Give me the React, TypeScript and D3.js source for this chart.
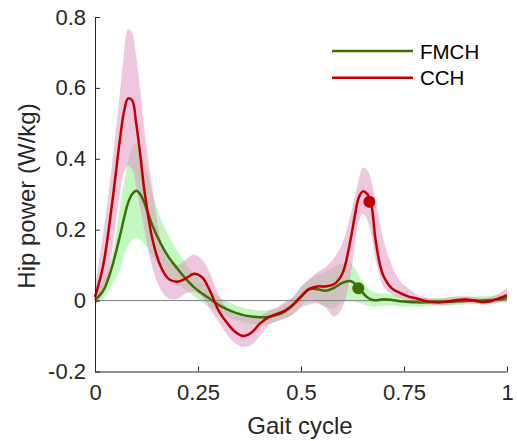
import { useEffect, useRef } from "react"
import * as d3 from "d3"

// gait cycle samples (fraction of stride)
const gait = [0, 0.02, 0.04, 0.06, 0.07, 0.08, 0.09, 0.1, 0.11, 0.12, 0.14, 0.16, 0.18, 0.2, 0.22, 0.24, 0.26, 0.28, 0.3, 0.32, 0.34, 0.36, 0.38, 0.4, 0.42, 0.44, 0.46, 0.48, 0.5, 0.52, 0.54, 0.56, 0.58, 0.6, 0.62, 0.63, 0.64, 0.65, 0.66, 0.67, 0.68, 0.69, 0.7, 0.72, 0.74, 0.76, 0.78, 0.8, 0.82, 0.84, 0.86, 0.88, 0.9, 0.92, 0.94, 0.96, 0.98, 1]

const cchMean = [0.01, 0.1, 0.26, 0.45, 0.53, 0.57, 0.565, 0.5, 0.41, 0.31, 0.17, 0.095, 0.06, 0.053, 0.062, 0.076, 0.066, 0.025, -0.028, -0.062, -0.088, -0.1, -0.09, -0.065, -0.048, -0.038, -0.029, -0.012, 0.012, 0.033, 0.04, 0.04, 0.046, 0.075, 0.17, 0.235, 0.29, 0.308, 0.302, 0.275, 0.18, 0.11, 0.07, 0.035, 0.022, 0.012, 0.006, 0, -0.004, -0.005, -0.002, 0.002, 0.003, 0, -0.004, -0.002, 0.006, 0.015]
const cchUpper = [0.04, 0.19, 0.37, 0.58, 0.69, 0.765, 0.755, 0.69, 0.59, 0.48, 0.31, 0.17, 0.11, 0.1, 0.115, 0.13, 0.115, 0.075, 0.015, -0.02, -0.04, -0.046, -0.045, -0.043, -0.03, -0.02, -0.005, 0.01, 0.04, 0.06, 0.08, 0.095, 0.12, 0.16, 0.24, 0.29, 0.34, 0.375, 0.37, 0.34, 0.285, 0.23, 0.17, 0.1, 0.055, 0.035, 0.018, 0.01, 0.006, 0.006, 0.01, 0.012, 0.012, 0.01, 0.008, 0.01, 0.02, 0.035]
const cchLower = [-0.012, 0.02, 0.13, 0.3, 0.36, 0.38, 0.37, 0.32, 0.26, 0.2, 0.09, 0.03, 0.005, 0.005, 0.02, 0.025, 0.01, -0.025, -0.06, -0.095, -0.12, -0.13, -0.125, -0.1, -0.07, -0.058, -0.05, -0.04, -0.02, -0.012, -0.008, -0.02, -0.045, -0.02, 0.07, 0.15, 0.22, 0.245, 0.23, 0.19, 0.12, 0.075, 0.04, 0.018, 0.008, 0.004, 0, -0.006, -0.012, -0.014, -0.012, -0.008, -0.006, -0.008, -0.012, -0.01, -0.006, 0]

const fmchMean = [0.002, 0.028, 0.09, 0.18, 0.23, 0.275, 0.3, 0.31, 0.3, 0.275, 0.21, 0.16, 0.12, 0.09, 0.062, 0.038, 0.02, 0.004, -0.012, -0.024, -0.034, -0.041, -0.045, -0.047, -0.046, -0.041, -0.031, -0.013, 0.01, 0.032, 0.032, 0.028, 0.036, 0.05, 0.055, 0.048, 0.036, 0.022, 0.01, 0.003, 0.001, 0.002, 0.004, 0.002, -0.002, -0.004, -0.005, -0.005, -0.004, -0.003, -0.003, -0.002, -0.001, 0, 0, 0.002, 0.004, 0.007]
const fmchUpper = [0.015, 0.055, 0.12, 0.26, 0.33, 0.39, 0.43, 0.445, 0.43, 0.39, 0.3, 0.23, 0.18, 0.14, 0.105, 0.075, 0.052, 0.032, 0.012, -0.002, -0.013, -0.02, -0.025, -0.028, -0.027, -0.022, -0.01, 0.008, 0.035, 0.06, 0.072, 0.082, 0.095, 0.105, 0.105, 0.092, 0.072, 0.052, 0.038, 0.028, 0.022, 0.021, 0.02, 0.017, 0.011, 0.008, 0.006, 0.006, 0.006, 0.007, 0.008, 0.009, 0.01, 0.011, 0.012, 0.013, 0.015, 0.017]
const fmchLower = [-0.012, 0.005, 0.04, 0.085, 0.125, 0.155, 0.172, 0.178, 0.172, 0.16, 0.125, 0.095, 0.07, 0.05, 0.03, 0.012, -0.005, -0.02, -0.035, -0.045, -0.055, -0.062, -0.066, -0.068, -0.066, -0.06, -0.052, -0.038, -0.015, 0.003, -0.005, -0.018, -0.022, -0.005, 0, -0.002, -0.006, -0.01, -0.014, -0.016, -0.017, -0.016, -0.015, -0.014, -0.016, -0.017, -0.017, -0.016, -0.015, -0.014, -0.013, -0.012, -0.011, -0.01, -0.009, -0.008, -0.006, -0.004]

// toe-off markers
const toeOffGait = [0.639, 0.666]
const toeOffValue = [0.035, 0.279]

const seriesNames = ["FMCH", "CCH"]
const xTicks = [0, 0.25, 0.5, 0.75, 1]
const xTickLabels = ["0", "0.25", "0.5", "0.75", "1"]
const yTicks = [-0.2, 0, 0.2, 0.4, 0.6, 0.8]
const yTickLabels = ["-0.2", "0", "0.2", "0.4", "0.6", "0.8"]

const W = 517
const H = 441
const FONT = "'Liberation Sans', Arial, sans-serif"
const green = "#3c7000"
const red = "#c00000"

const App = () => {
    const ref = useRef(null)

    useEffect(() => {
        const svg = d3.select(ref.current)
        svg.selectAll("*").remove()

        const x = d3.scaleLinear().domain([0, 1]).range([95, 507])
        const y = d3.scaleLinear().domain([-0.2, 0.8]).range([371.5, 17])

        const band = (up, lo) => d3.area()
            .x((d, i) => x(gait[i]))
            .y0((d, i) => y(lo[i]))
            .y1((d, i) => y(up[i]))
            .curve(d3.curveCatmullRom.alpha(0.5))(gait)

        const line = (vals) => d3.line()
            .x((d, i) => x(gait[i]))
            .y((d, i) => y(vals[i]))
            .curve(d3.curveCatmullRom.alpha(0.5))(gait)

        // std bands
        svg.append("path").attr("d", band(fmchUpper, fmchLower))
            .attr("fill", "rgb(133,239,133)").attr("fill-opacity", 0.5)
        svg.append("path").attr("d", band(cchUpper, cchLower))
            .attr("fill", "rgb(223,141,191)").attr("fill-opacity", 0.5)

        // zero line
        svg.append("line")
            .attr("x1", x(0)).attr("x2", x(1))
            .attr("y1", y(0)).attr("y2", y(0))
            .attr("stroke", "#808080").attr("stroke-width", 1)

        svg.append("path").attr("d", line(fmchMean))
            .attr("fill", "none").attr("stroke", green).attr("stroke-width", 2.5)
        svg.append("path").attr("d", line(cchMean))
            .attr("fill", "none").attr("stroke", red).attr("stroke-width", 2.5)

        const colors = [green, red]
        svg.selectAll(".toe")
            .data(toeOffGait)
            .join("circle")
            .attr("cx", d => x(d))
            .attr("cy", (d, i) => y(toeOffValue[i]))
            .attr("r", 6)
            .attr("fill", (d, i) => colors[i])

        // axes
        const xAxis = svg.append("g")
            .attr("transform", `translate(0,${y(-0.2)})`)
            .call(d3.axisBottom(x).tickValues(xTicks)
                .tickFormat((d, i) => xTickLabels[i])
                .tickSizeInner(-5).tickSizeOuter(0).tickPadding(13))
        const yAxis = svg.append("g")
            .attr("transform", `translate(${x(0)},0)`)
            .call(d3.axisLeft(y).tickValues(yTicks)
                .tickFormat((d, i) => yTickLabels[i])
                .tickSizeInner(-5).tickSizeOuter(0).tickPadding(9))
        ;[xAxis, yAxis].forEach(g => {
            g.select(".domain").attr("stroke", "#262626")
            g.selectAll(".tick line").attr("stroke", "#262626")
            g.selectAll(".tick text").attr("fill", "#262626")
                .attr("font-size", 22).attr("font-family", FONT)
        })

        svg.append("text")
            .attr("x", 300).attr("y", 434)
            .attr("text-anchor", "middle")
            .attr("font-family", FONT).attr("font-size", 24).attr("fill", "#262626")
            .text("Gait cycle")
        svg.append("text")
            .attr("transform", "translate(35,196) rotate(-90)")
            .attr("text-anchor", "middle")
            .attr("font-family", FONT).attr("font-size", 24).attr("fill", "#262626")
            .text("Hip power (W/kg)")

        // legend
        const leg = svg.append("g")
        seriesNames.forEach((name, i) => {
            leg.append("line")
                .attr("x1", 332).attr("x2", 413)
                .attr("y1", 51 + i * 26.7).attr("y2", 51 + i * 26.7)
                .attr("stroke", colors[i]).attr("stroke-width", 2.5)
            leg.append("text")
                .attr("x", 420).attr("y", 58.5 + i * 26.7)
                .attr("font-family", FONT).attr("font-size", 20.5).attr("fill", "#000")
                .text(name)
        })
    }, [])

    return (
        <svg ref={ref} width={W} height={H}
            style={{ position: "absolute", left: 0, top: 0, background: "#fff" }} />
    )
}

export default App
